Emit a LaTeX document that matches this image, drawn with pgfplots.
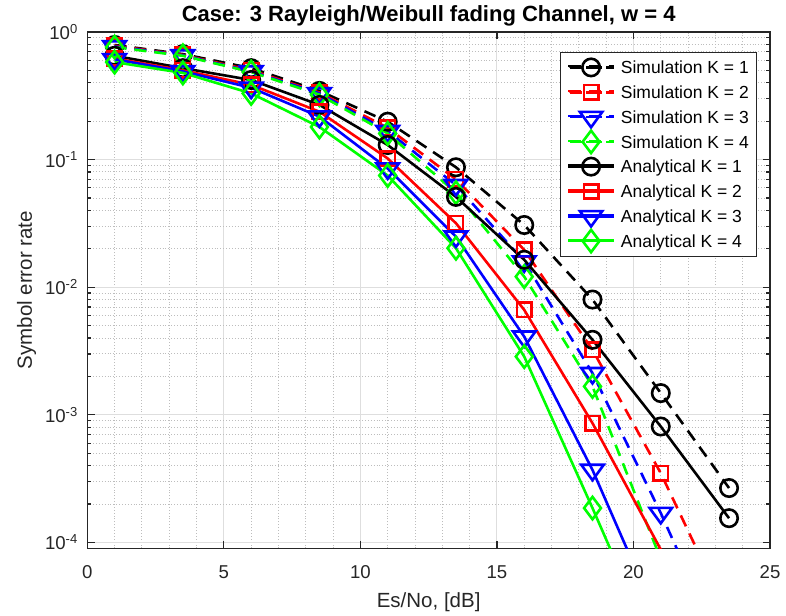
\documentclass[border=0pt]{standalone}
\usepackage{fontspec}
\setmainfont{Liberation Sans}
\usepackage{pgfplots}
\usepackage{pgfplotstable}
\pgfplotsset{compat=1.18}

\definecolor{axgray}{gray}{0.15}
\definecolor{majgrid}{HTML}{DEDEDE}
\definecolor{mingrid}{HTML}{BDBDBD}

% symbol error rate vs Es/No; s = simulation, a = analytical, K = 1..4
\pgfplotstableread{
x     s1       s2       s3       s4       a1       a2       a3       a4
1     0.79     0.78     0.77     0.76     0.65     0.62     0.61     0.58
3.5   0.67     0.66     0.655    0.65     0.52     0.50     0.49     0.477
6     0.52     0.50     0.49     0.485    0.42     0.385    0.365    0.33
8.5   0.345    0.335    0.33     0.322    0.268    0.237    0.217    0.180
11    0.198    0.177    0.167    0.160    0.130    0.102    0.085    0.075
13.5  0.087    0.070    0.063    0.055    0.051    0.0317   0.0249   0.0202
16    0.0307   0.0196   0.0159   0.0121   0.0164   0.00664  0.0041   0.00286
18.5  0.0080   0.00323  0.00212  0.00167  0.00387  8.6e-4   3.7e-4   1.86e-4
21    0.00148  3.49e-4  1.7e-4   7.4e-5   8.1e-4   8.8e-5   2.2e-5   1.1e-5
23.5  2.67e-4  2.6e-5   1.1e-5   3e-6     1.55e-4  6.6e-6   1.1e-6   5e-7
}\serdata

\pgfplotsset{
  sim/.style={line width=2.6bp, dash pattern=on 12bp off 8bp},
  ana/.style={line width=2.6bp, solid},
  mko/.style={mark=o, mark size=8.7bp},
  mks/.style={mark=square, mark size=7.2bp},
  mkv/.style={mark=triangle, mark size=10.3bp},
  mkd/.style={mark=diamond, mark size=11.2bp},
}

\begin{document}
\begin{tikzpicture}
\useasboundingbox (-87.3bp,-67.7bp) rectangle (698.7bp,548.3bp);
\begin{axis}[
  at={(0,0)}, anchor=south west,
  scale only axis, width=682.7bp, height=516.4bp,
  xmin=0, xmax=25, ymode=log, ymin=9e-5, ymax=1,
  xtick={0,5,10,15,20,25},
  minor x tick num=4,
  ytick={1e-4,1e-3,1e-2,1e-1,1},
  yticklabels={10\textsuperscript{-4},10\textsuperscript{-3},10\textsuperscript{-2},10\textsuperscript{-1},10\textsuperscript{0}},
  minor ytick={2e-4,3e-4,4e-4,5e-4,6e-4,7e-4,8e-4,9e-4,
               2e-3,3e-3,4e-3,5e-3,6e-3,7e-3,8e-3,9e-3,
               2e-2,3e-2,4e-2,5e-2,6e-2,7e-2,8e-2,9e-2,
               2e-1,3e-1,4e-1,5e-1,6e-1,7e-1,8e-1,9e-1},
  /pgf/number format/assume math mode=true,
  grid=both,
  major grid style={majgrid, line width=0.9bp},
  minor grid style={mingrid, line width=0.9bp, dotted},
  axis line style={axgray, line width=1.2bp},
  tick style={axgray, line width=1.2bp},
  minor x tick style={draw=none},
  major tick length=7.5bp, minor tick length=4bp,
  tick align=inside,
  tick label style={font=\fontsize{18.6bp}{21bp}\selectfont, text=axgray},
  xticklabel style={anchor=base, yshift=-29.7bp},
  yticklabel style={anchor=east, inner sep=0pt, xshift=-9.3bp},
  title={Case: 3 Rayleigh/Weibull fading Channel, w = 4},
  every axis title/.style={at={(axis description cs:0.5,1)}, yshift=10.9bp, anchor=base,
    font=\bfseries\fontsize{22bp}{26bp}\selectfont},
  xlabel={Es/No, [dB]},
  ylabel={Symbol error rate},
  every axis x label/.style={at={(axis description cs:0.5,0)}, yshift=-59.2bp, anchor=base},
  every axis y label/.style={at={(axis description cs:0,0.5)}, xshift=-55.3bp, rotate=90, anchor=base},
  label style={font=\fontsize{20.5bp}{24bp}\selectfont, text=axgray},
  legend image code/.code={%
    \draw[overlay, mark repeat=2, mark phase=2, #1] plot coordinates {(0bp,0bp) (21.5bp,0bp) (43bp,0bp)};
    \path (0bp,0bp) rectangle (43bp,1bp);},
  legend cell align=left,
  legend style={at={(rel axis cs:0.9805,0.9617)}, anchor=north east,
    draw=axgray, line width=0.8bp, fill=white,
    font=\fontsize{17.5bp}{20bp}\selectfont,
    inner xsep=7.5bp, inner ysep=9bp, row sep=12.1bp,
    nodes={inner sep=0pt, text height=12.7bp, text depth=0bp},
    /tikz/every odd column/.append style={column sep=7bp}},
]
% legend entries
\addlegendimage{sim, black, mko, mark options={solid}}
\addlegendentry{Simulation K = 1}
\addlegendimage{sim, red, mks, mark options={solid}}
\addlegendentry{Simulation K = 2}
\addlegendimage{sim, blue, mkv, mark options={solid, rotate=180, xscale=1.26}}
\addlegendentry{Simulation K = 3}
\addlegendimage{sim, green, mkd, mark options={solid}}
\addlegendentry{Simulation K = 4}
\addlegendimage{ana, black, mko}
\addlegendentry{Analytical K = 1}
\addlegendimage{ana, red, mks}
\addlegendentry{Analytical K = 2}
\addlegendimage{ana, blue, mkv, mark options={rotate=180, xscale=1.26}}
\addlegendentry{Analytical K = 3}
\addlegendimage{ana, green, mkd}
\addlegendentry{Analytical K = 4}

% simulated curves
\addplot[forget plot, sim, black, mko, mark options={solid}] table[x=x, y=s1] {\serdata};
\addplot[forget plot, sim, red, mks, mark options={solid}, mark indices={1,2,3,4,5,6,7,8,9}] table[x=x, y=s2] {\serdata};
\addplot[forget plot, sim, blue, mkv, mark options={solid, rotate=180, xscale=1.26}, mark indices={1,2,3,4,5,6,7,8,9}] table[x=x, y=s3] {\serdata};
\addplot[forget plot, sim, green, mkd, mark options={solid}, mark indices={1,2,3,4,5,6,7,8}] table[x=x, y=s4] {\serdata};
% analytical curves
\addplot[forget plot, ana, black, mko] table[x=x, y=a1] {\serdata};
\addplot[forget plot, ana, red, mks, mark indices={1,2,3,4,5,6,7,8}] table[x=x, y=a2] {\serdata};
\addplot[forget plot, ana, blue, mkv, mark options={rotate=180, xscale=1.26}, mark indices={1,2,3,4,5,6,7,8}] table[x=x, y=a3] {\serdata};
\addplot[forget plot, ana, green, mkd, mark indices={1,2,3,4,5,6,7,8}] table[x=x, y=a4] {\serdata};
\end{axis}
\end{tikzpicture}
\end{document}
